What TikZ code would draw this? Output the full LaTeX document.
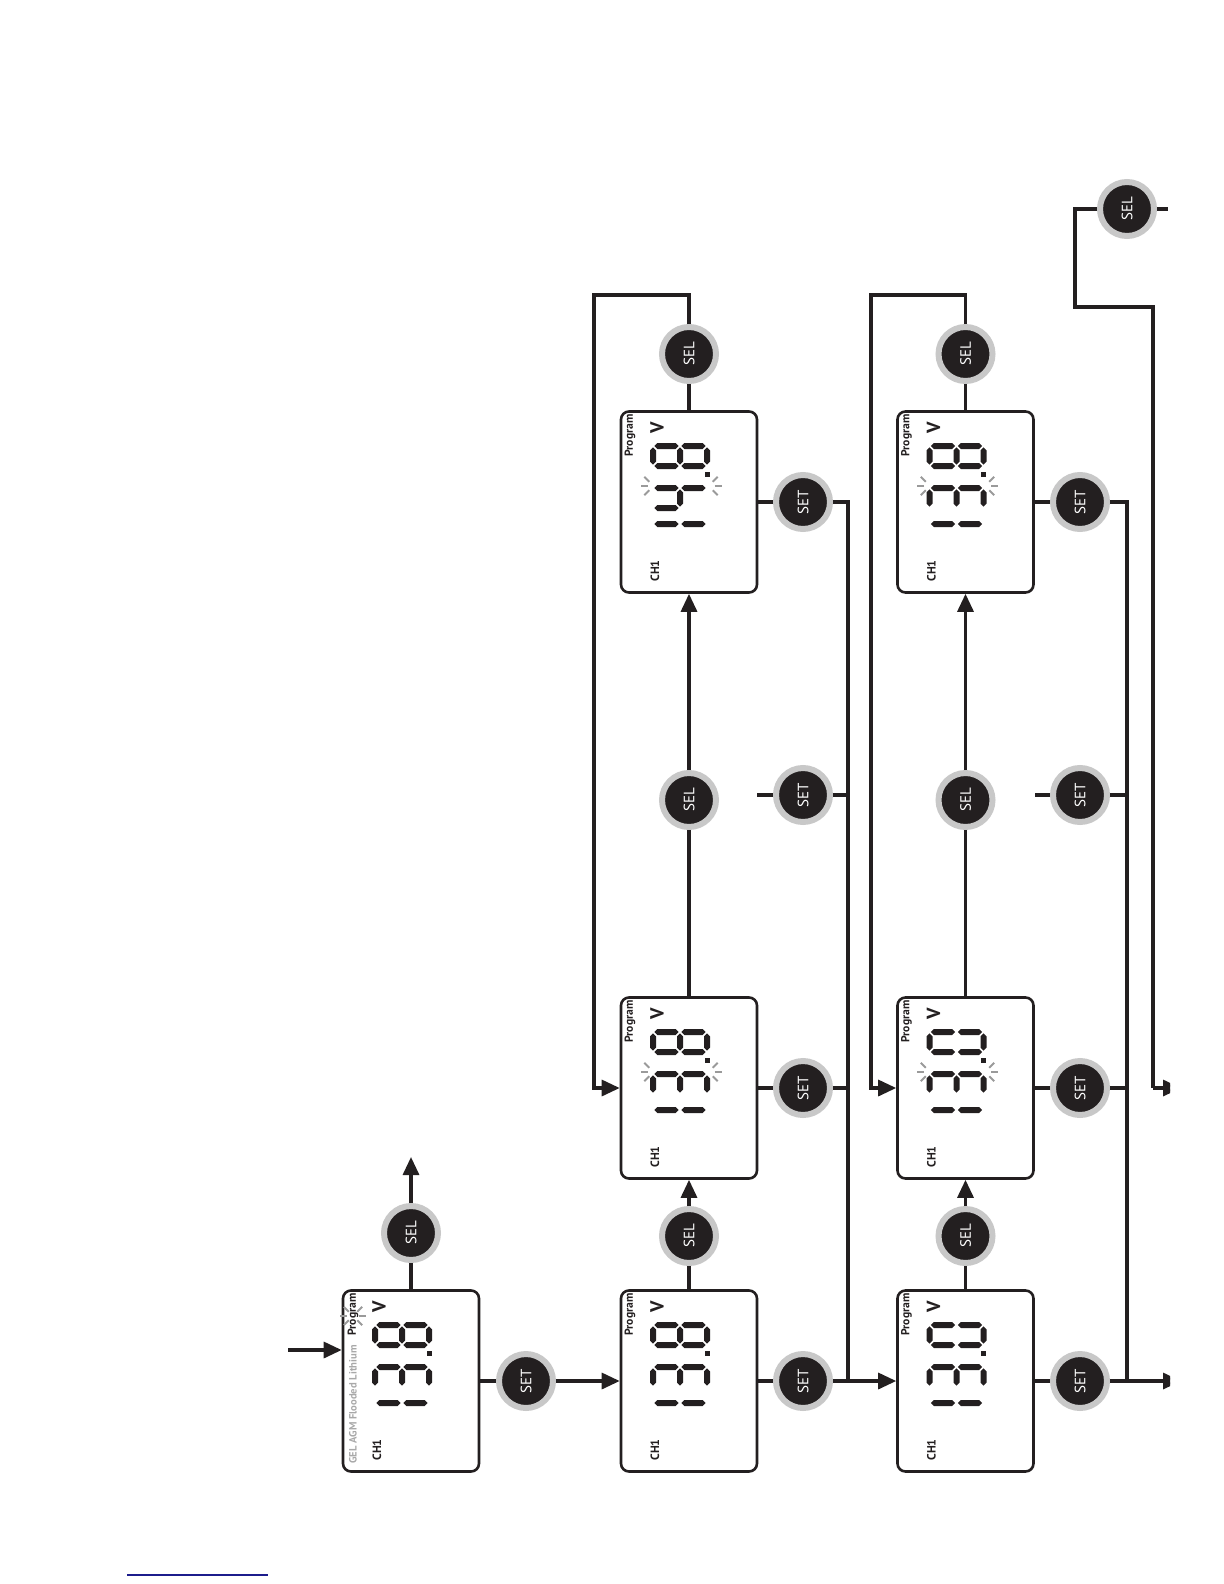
\documentclass[tikz,border=0pt]{standalone}
\usepackage{fontspec}
\setmainfont{PT Sans}
\usetikzlibrary{arrows.meta}
\definecolor{ink}{HTML}{231F20}
\definecolor{ring}{HTML}{C8C8C8}
\definecolor{blink}{HTML}{9A9A9A}
\definecolor{gtext}{HTML}{A8A8A8}
\definecolor{navy}{HTML}{1C1C8C}
\tikzset{
 lcd/.style={draw=ink, line width=1.3pt, rounded corners=4pt, minimum width=68pt, minimum height=90.5pt, inner sep=0pt},
 btn/.style={circle, fill=ink, draw=ring, line width=3pt, minimum size=27pt, inner sep=0pt, text=white, font=\fontsize{7.5}{8}\selectfont},
 wire/.style={draw=ink, line width=1.6pt},
 arr/.style={wire, -{Triangle[length=9pt,width=8pt]}},
 lbl/.style={inner sep=0pt, transform shape, text=ink},
 blinkray/.style={draw=blink, line width=1pt},
}
\newcommand\hw{3}
\newcommand\hseg[3]{\pgfmathsetmacro\sgA{#1}\pgfmathsetmacro\sgB{#2}\pgfmathsetmacro\sgC{#3}%
 \fill[ink] (\sgA,\sgC) -- ({\sgA+\hw},{\sgC+\hw}) -- ({\sgB-\hw},{\sgC+\hw}) -- (\sgB,\sgC) -- ({\sgB-\hw},{\sgC-\hw}) -- ({\sgA+\hw},{\sgC-\hw}) -- cycle;}
\newcommand\vseg[3]{\pgfmathsetmacro\sgA{#1}\pgfmathsetmacro\sgB{#2}\pgfmathsetmacro\sgC{#3}%
 \fill[ink] (\sgA,\sgB) -- ({\sgA+\hw},{\sgB+\hw}) -- ({\sgA+\hw},{\sgC-\hw}) -- (\sgA,\sgC) -- ({\sgA-\hw},{\sgC-\hw}) -- ({\sgA-\hw},{\sgB+\hw}) -- cycle;}
\newcommand\sega{\hseg{\dgL+1.3}{\dgR-1.3}{36}}
\newcommand\segg{\hseg{\dgL+1.3}{\dgR-1.3}{9}}
\newcommand\segd{\hseg{\dgL+1.3}{\dgR-1.3}{-18}}
\newcommand\segb{\vseg{\dgR}{10.3}{34.7}}
\newcommand\segc{\vseg{\dgR}{-16.7}{7.7}}
\newcommand\sege{\vseg{\dgL}{-16.7}{7.7}}
\newcommand\segf{\vseg{\dgL}{10.3}{34.7}}
\newcommand\dig[3]{\pgfmathsetmacro\dgL{#1}\pgfmathsetmacro\dgR{#2}%
 \foreach \s in {#3}{\csname seg\s\endcsname}}
\newcommand\dpt{\fill[ink] (25.5,-20.5) rectangle (30.5,-15.5);}
\newcommand\fan[3]{\foreach \ang in {-45,0,45}{\draw[blinkray] ({#1+6*cos(#3+\ang)},{#2+6*sin(#3+\ang)}) -- ({#1+13*cos(#3+\ang)},{#2+13*sin(#3+\ang)});}}
\newcommand\lcdcommon[1]{%
 \node[lbl, anchor=east, font=\bfseries\fontsize{5.8}{7}\selectfont] (#1p) at (88,59) {Program};
 \node[lbl, font=\bfseries\fontsize{9.5}{10}\selectfont] (#1v) at (74,32) {V};
 \node[lbl, font=\bfseries\fontsize{6}{7}\selectfont] (#1c) at (-69,34) {CH1};}
\newcommand\digblink{\fan{16}{35.5}{90}\fan{16}{-19.5}{270}}
\begin{document}
\begin{tikzpicture}[x=0.5pt,y=-0.5pt]
\useasboundingbox (0,0) rectangle (1224,1584);
% LCD boxes
\node[lcd] (A) at (411,1381) {};
\node[lcd] (B) at (689,1381) {};
\node[lcd] (C) at (689,1088) {};
\node[lcd] (D) at (689,502) {};
\node[lcd] (E) at (965.5,1381) {};
\node[lcd] (F) at (965.5,1088) {};
\node[lcd] (G) at (965.5,502) {};
% buttons
\node[btn] (SELA) at (411,1233) {\rotatebox{90}{SEL}};
\node[btn] (SETA) at (526,1381) {\rotatebox{90}{SET}};
\node[btn] (SELB) at (689,1236) {\rotatebox{90}{SEL}};
\node[btn] (SETB) at (803,1381) {\rotatebox{90}{SET}};
\node[btn] (SETC) at (803,1088) {\rotatebox{90}{SET}};
\node[btn] (SELC) at (689,800) {\rotatebox{90}{SEL}};
\node[btn] (SETM) at (803,795) {\rotatebox{90}{SET}};
\node[btn] (SETD) at (803,502) {\rotatebox{90}{SET}};
\node[btn] (SELD) at (689,354) {\rotatebox{90}{SEL}};
\node[btn] (SELE) at (965.5,1236) {\rotatebox{90}{SEL}};
\node[btn] (SETE) at (1080,1381) {\rotatebox{90}{SET}};
\node[btn] (SETF) at (1080,1088) {\rotatebox{90}{SET}};
\node[btn] (SELF) at (965.5,800) {\rotatebox{90}{SEL}};
\node[btn] (SETN) at (1080,795) {\rotatebox{90}{SET}};
\node[btn] (SETG) at (1080,502) {\rotatebox{90}{SET}};
\node[btn] (SELG) at (965.5,354) {\rotatebox{90}{SEL}};
\node[btn] (SELX) at (1127,209) {\rotatebox{90}{SEL}};
% coordinates
\coordinate (inA) at (288,1350);
\coordinate (upA) at (411,1157);
\coordinate (J1t) at (848,502);
\coordinate (J1b) at (848,1381);
\coordinate (L1a) at (689,295);
\coordinate (L1b) at (594,295);
\coordinate (L1c) at (594,1088);
\coordinate (M1) at (757,795);
\coordinate (J2t) at (1127,502);
\coordinate (J2b) at (1127,1381);
\coordinate (L2a) at (965.5,295);
\coordinate (L2b) at (871,295);
\coordinate (L2c) at (871,1088);
\coordinate (M2) at (1035,795);
\coordinate (outE) at (1181,1381);
\coordinate (X1) at (1075,209);
\coordinate (X2) at (1075,307);
\coordinate (X3) at (1153,307);
\coordinate (X4) at (1153,1088);
\coordinate (outF) at (1181,1088);
\coordinate (X5) at (1168,209);
% wires
\draw[arr] (inA) -- (inA -| A.west);
\draw[wire] (A.north) -- (SELA);
\draw[arr] (SELA) -- (upA);
\draw[wire] (A.east) -- (SETA);
\draw[arr] (SETA) -- (B.west);
\draw[wire] (B.north) -- (SELB);
\draw[arr] (SELB) -- (C.south);
\draw[wire] (C.north) -- (SELC);
\draw[arr] (SELC) -- (D.south);
\draw[wire] (D.north) -- (SELD);
\draw[arr] (SELD) -- (L1a) -- (L1b) -- (L1c) -- (C.west);
\draw[wire] (B.east) -- (SETB);
\draw[arr] (SETB) -- (E.west);
\draw[wire] (C.east) -- (SETC);
\draw[wire] (SETC) -- (SETC -| J1t);
\draw[wire] (M1) -- (SETM);
\draw[wire] (SETM) -- (SETM -| J1t);
\draw[wire] (D.east) -- (SETD);
\draw[wire] (SETD) -- (J1t) -- (J1b);
\draw[wire] (E.north) -- (SELE);
\draw[arr] (SELE) -- (F.south);
\draw[wire] (F.north) -- (SELF);
\draw[arr] (SELF) -- (G.south);
\draw[wire] (G.north) -- (SELG);
\draw[arr] (SELG) -- (L2a) -- (L2b) -- (L2c) -- (F.west);
\draw[wire] (E.east) -- (SETE);
\draw[wire] (F.east) -- (SETF);
\draw[wire] (SETF) -- (SETF -| J2t);
\draw[wire] (M2) -- (SETN);
\draw[wire] (SETN) -- (SETN -| J2t);
\draw[wire] (G.east) -- (SETG);
\draw[wire] (SETG) -- (J2t) -- (J2b);
\draw[wire] (X1) -- (SELX);
\draw[wire] (SELX) -- (X5);
\begin{scope}
\clip (0,0) rectangle (1170,1584);
\draw[arr] (SETE) -- (outE);
\draw[wire] (SELX) -- (X1) -- (X2) -- (X3) -- (X4);
\draw[arr] (X4) -- (outF);
\end{scope}
% LCD contents
\begin{scope}[shift={(A.center)},x=0.5pt,y=0.5pt,rotate=90]
 \node[lbl, anchor=east, font=\bfseries\fontsize{5.8}{7}\selectfont] (Ap) at (88,58) {Program};
 \node[lbl, anchor=east, text=gtext, font=\bfseries\fontsize{5.3}{7}\selectfont] (Ag) at (36,58) {GEL AGM Flooded Lithium};
 \node[lbl, font=\bfseries\fontsize{9.5}{10}\selectfont] (Av) at (74,32) {V};
 \node[lbl, font=\bfseries\fontsize{6}{7}\selectfont] (Ac) at (-69,34) {CH1};
 \fan{65}{58}{90}\fan{65}{58}{270}
 \dig{-42}{-22}{b,c}\dig{-6}{14}{a,b,c,d,g}\dig{36}{56}{a,b,c,d,e,f,g}\dpt
\end{scope}
\begin{scope}[shift={(B.center)},x=0.5pt,y=0.5pt,rotate=90]
 \lcdcommon{B}
 \dig{-42}{-22}{b,c}\dig{-6}{14}{a,b,c,d,g}\dig{36}{56}{a,b,c,d,e,f,g}\dpt
\end{scope}
\begin{scope}[shift={(C.center)},x=0.5pt,y=0.5pt,rotate=90]
 \lcdcommon{C}
 \dig{-42}{-22}{b,c}\dig{-6}{14}{a,b,c,d,g}\dig{36}{56}{a,b,c,d,e,f,g}\dpt\digblink
\end{scope}
\begin{scope}[shift={(D.center)},x=0.5pt,y=0.5pt,rotate=90]
 \lcdcommon{D}
 \dig{-42}{-22}{b,c}\dig{-6}{14}{b,c,f,g}\dig{36}{56}{a,b,c,d,e,f,g}\dpt\digblink
\end{scope}
\begin{scope}[shift={(E.center)},x=0.5pt,y=0.5pt,rotate=90]
 \lcdcommon{E}
 \dig{-42}{-22}{b,c}\dig{-6}{14}{a,b,c,d,g}\dig{36}{56}{a,b,c,d,e,f}\dpt
\end{scope}
\begin{scope}[shift={(F.center)},x=0.5pt,y=0.5pt,rotate=90]
 \lcdcommon{F}
 \dig{-42}{-22}{b,c}\dig{-6}{14}{a,b,c,d,g}\dig{36}{56}{a,b,c,d,e,f}\dpt\digblink
\end{scope}
\begin{scope}[shift={(G.center)},x=0.5pt,y=0.5pt,rotate=90]
 \lcdcommon{G}
 \dig{-42}{-22}{b,c}\dig{-6}{14}{a,b,c,d,g}\dig{36}{56}{a,b,c,d,e,f,g}\dpt\digblink
\end{scope}
% footer rule
\draw[navy, line width=0.7pt] (127,1575) -- (268,1575);
\end{tikzpicture}
\end{document}
